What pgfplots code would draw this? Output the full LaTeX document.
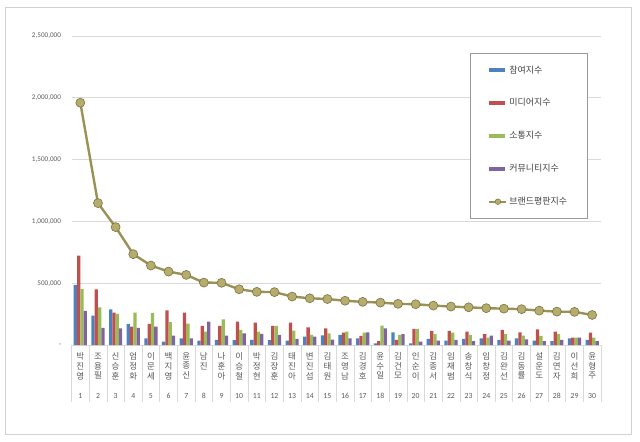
\documentclass[border=0pt]{standalone}
\usepackage{pgfplots}
\pgfplotsset{compat=1.18}
\usepackage{pgfplotstable}
\usepackage{fontspec}
\setmainfont{Noto Sans CJK KR}
\newfontfamily\numfont{Carlito}
\definecolor{cblue}{HTML}{4F81BD}
\definecolor{cred}{HTML}{C0504D}
\definecolor{cgreen}{HTML}{9BBB59}
\definecolor{cpurple}{HTML}{8064A2}
\definecolor{cline}{HTML}{9A9157}
\definecolor{cmfill}{HTML}{B5AD6E}
\definecolor{cmdraw}{HTML}{7A733F}
\definecolor{numgray}{HTML}{595959}
\definecolor{gridgray}{HTML}{D9D9D9}
\newcommand{\nm}[4]{\begin{tabular}[t]{@{}c@{}}#1\\#2\\#3\\[10bp]{\numfont\fontsize{7.8}{8}\selectfont #4}\end{tabular}}
\pgfplotstableread{
x blue red green purple brand
1 486000 724000 454000 276000 1960000
2 238000 451000 305000 138000 1148000
3 289000 262000 251000 135000 954000
4 170000 148000 262000 138000 735000
5 54000 170000 257000 148000 643000
6 27000 281000 186000 75000 594000
7 54000 262000 173000 54000 567000
8 35000 154000 108000 189000 505000
9 41000 154000 208000 76000 503000
10 40000 189000 122000 95000 451000
11 41000 181000 108000 90000 430000
12 40000 154000 154000 81000 428000
13 35000 181000 116000 49000 392000
14 68000 143000 81000 68000 378000
15 78000 135000 95000 44000 372000
16 81000 100000 108000 54000 358000
17 54000 73000 100000 103000 349000
18 14000 32000 157000 135000 343000
19 103000 41000 81000 89000 333000
20 14000 130000 130000 27000 330000
21 49000 114000 89000 35000 319000
22 35000 114000 100000 41000 311000
23 49000 108000 81000 32000 305000
24 54000 87000 60000 76000 298000
25 41000 122000 89000 35000 294000
26 54000 103000 76000 46000 290000
27 35000 127000 73000 32000 278000
28 32000 108000 87000 41000 270000
29 54000 60000 60000 60000 268000
30 41000 100000 60000 32000 243000
}\datatable
\begin{document}
\begin{tikzpicture}
\begin{axis}[
  at={(0,0)}, anchor=south west,
  scale only axis, width=529.5bp, height=309bp,
  xmin=0.5, xmax=30.5, ymin=0, ymax=2500000,
  ybar=0pt, bar width=3.3bp,
  xtick={1,...,30},
  xticklabels={\nm{박}{진}{영}{1},\nm{조}{용}{필}{2},\nm{신}{승}{훈}{3},\nm{엄}{정}{화}{4},\nm{이}{문}{세}{5},\nm{백}{지}{영}{6},\nm{윤}{종}{신}{7},\nm{남}{진}{}{8},\nm{나}{훈}{아}{9},\nm{이}{승}{철}{10},\nm{박}{정}{현}{11},\nm{김}{장}{훈}{12},\nm{태}{진}{아}{13},\nm{변}{진}{섭}{14},\nm{김}{태}{원}{15},\nm{조}{영}{남}{16},\nm{김}{경}{호}{17},\nm{윤}{수}{일}{18},\nm{김}{건}{모}{19},\nm{인}{순}{이}{20},\nm{김}{종}{서}{21},\nm{임}{재}{범}{22},\nm{송}{창}{식}{23},\nm{임}{창}{정}{24},\nm{김}{완}{선}{25},\nm{김}{동}{률}{26},\nm{설}{운}{도}{27},\nm{김}{연}{자}{28},\nm{이}{선}{희}{29},\nm{윤}{형}{주}{30}},
  minor xtick={0.5,1.5,...,30.5},
  ytick={0,500000,1000000,1500000,2000000,2500000},
  yticklabels={-,{500,000},{1,000,000},{1,500,000},{2,000,000},{2,500,000}},
  scaled y ticks=false,
  tick align=outside, tick pos=left,
  major tick length=0pt, minor tick length=57bp,
  minor x tick style={gridgray, line width=0.6bp},
  ymajorgrids, grid style={gridgray, line width=0.7bp},
  axis x line*=bottom, axis y line*=left,
  axis line style={-},
  x axis line style={gridgray, line width=0.8bp},
  y axis line style={draw=none},
  xticklabel style={font=\fontsize{8.5}{9.5}\selectfont, text=numgray, anchor=north, yshift=-6.5bp, inner sep=1bp},
  yticklabel style={font=\fontsize{7.2}{8}\selectfont\numfont, text=numgray, xshift=-7bp},
  legend cell align=left,
  legend style={at={(0.752,0.944)}, anchor=north west, draw=gray!80, line width=0.7bp,
    font=\fontsize{9}{11}\selectfont, text=black!75,
    inner xsep=18.5bp, inner ysep=10bp, row sep=20bp,
    /tikz/every even column/.append style={column sep=1bp}},
]
\addplot[fill=cblue, draw=none, legend image code/.code={\fill[cblue] (0bp,-1.8bp) rectangle (16bp,1.8bp);}] table[x=x,y=blue]{\datatable};
\addlegendentry{참여지수}
\addplot[fill=cred, draw=none, legend image code/.code={\fill[cred] (0bp,-1.8bp) rectangle (16bp,1.8bp);}] table[x=x,y=red]{\datatable};
\addlegendentry{미디어지수}
\addplot[fill=cgreen, draw=none, legend image code/.code={\fill[cgreen] (0bp,-1.8bp) rectangle (16bp,1.8bp);}] table[x=x,y=green]{\datatable};
\addlegendentry{소통지수}
\addplot[fill=cpurple, draw=none, legend image code/.code={\fill[cpurple] (0bp,-1.8bp) rectangle (16bp,1.8bp);}] table[x=x,y=purple]{\datatable};
\addlegendentry{커뮤니티지수}
\addplot[sharp plot, color=cline, line width=2.4bp, mark=*, mark size=4.5bp,
  mark options={fill=cmfill, draw=cmdraw, line width=0.6bp},
  legend image code/.code={\draw[cline, line width=1.8bp] (0bp,0bp) -- (17bp,0bp); \filldraw[fill=cmfill, draw=cmdraw, line width=0.5bp] (8.5bp,0bp) circle (2.8bp);}]
  table[x=x,y=brand]{\datatable};
\addlegendentry{브랜드평판지수}
\end{axis}
\draw[gray!35, line width=0.8bp] (-66.5bp,-89bp) rectangle (559.5bp,338bp);
\pgfresetboundingbox
\path[use as bounding box] (-71.5bp,-97bp) rectangle (568.5bp,345bp);
\end{tikzpicture}
\end{document}
